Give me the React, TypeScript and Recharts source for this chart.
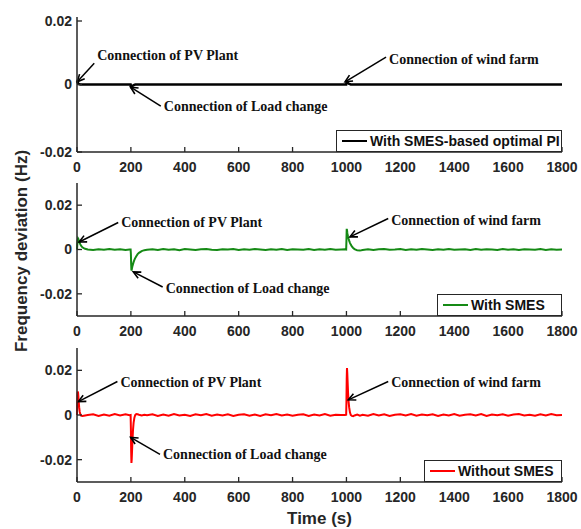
import {
    LineChart,
    Line,
    XAxis,
    YAxis,
    ReferenceLine,
    Legend,
} from "recharts";

// time axis (s), denser around the three connection events
const TIME = [
    0, 1, 2, 3, 4, 5, 6, 8, 10, 12, 15, 20, 25, 30, 40,
    60, 80, 100, 120, 140, 160, 180, 195,
    199, 200, 201, 202, 203, 204, 206, 208, 210, 213, 216, 220, 225, 230, 240, 250, 260,
    280, 300, 320, 340, 360, 380, 400, 420, 440, 460,
    480, 500, 520, 540, 560, 580, 600, 620, 640, 660,
    680, 700, 720, 740, 760, 780, 800, 820, 840, 860,
    880, 900, 920, 940, 960, 980,
    995, 999, 1000, 1001, 1002, 1003, 1004, 1006, 1008, 1010, 1013, 1016, 1020, 1025, 1030, 1040, 1050, 1060,
    1080, 1100, 1120, 1140, 1160, 1180, 1200, 1220, 1240, 1260,
    1280, 1300, 1320, 1340, 1360, 1380, 1400, 1420, 1440, 1460,
    1480, 1500, 1520, 1540, 1560, 1580, 1600, 1620, 1640, 1660,
    1680, 1700, 1720, 1740, 1760, 1780, 1800,
];

// With SMES-based optimal PI
const OPTIMAL_PI = [
    0.0006, 0.0008, 0.0007, 0.0005, 0.0004, 0.0003, 0.0002, 0.0001, 0.0001, 0, 0, 0, 0, 0, 0,
    0, 0, 0, 0, 0, 0, 0, 0,
    0, -0.0004, -0.0008, -0.0009, -0.0008, -0.0006, -0.0004, -0.0003, -0.0002, -0.0001, 0, 0, 0, 0, 0, 0, 0,
    0, 0, 0, 0, 0, 0, 0, 0, 0, 0,
    0, 0, 0, 0, 0, 0, 0, 0, 0, 0,
    0, 0, 0, 0, 0, 0, 0, 0, 0, 0,
    0, 0, 0, 0, 0, 0,
    0, 0, 0.0004, 0.0008, 0.0009, 0.0008, 0.0006, 0.0004, 0.0003, 0.0002, 0.0001, 0, 0, 0, 0, 0, 0, 0,
    0, 0, 0, 0, 0, 0, 0, 0, 0, 0,
    0, 0, 0, 0, 0, 0, 0, 0, 0, 0,
    0, 0, 0, 0, 0, 0, 0, 0, 0, 0,
    0, 0, 0, 0, 0, 0, 0,
];

// With SMES
const WITH_SMES = [
    0, 0.002, 0.0035, 0.0045, 0.005, 0.0048, 0.0044, 0.0036, 0.003, 0.0024, 0.0017, 0.001, 0.0006, 0.0003, 0,
    -0.0002, 0.0001, -0.0001, 0.0002, -0.0001, 0.0001, -0.0002, 0,
    0, -0.002, -0.0065, -0.0095, -0.0092, -0.0085, -0.0074, -0.0065, -0.0057, -0.0047, -0.0039, -0.003, -0.0021, -0.0015, -0.0007, -0.0003, -0.0001,
    0.0001, -0.0002, 0.0002, -0.0001, 0.0001, -0.0003, 0.0002, 0, -0.0002, 0.0001,
    0.0002, -0.0001, -0.0002, 0.0001, 0, 0.0002, -0.0002, 0.0001, -0.0001, 0.0002,
    0, -0.0002, 0.0001, -0.0001, 0.0002, -0.0002, 0.0001, 0, -0.0001, 0.0002,
    -0.0002, 0.0001, -0.0001, 0.0002, -0.0001, 0,
    0.0001, 0, 0.004, 0.0093, 0.0088, 0.0078, 0.007, 0.0058, 0.0048, 0.004, 0.003, 0.0022, 0.0014, 0.0007, 0.0002, -0.0004, -0.0005, -0.0002,
    0.0001, -0.0002, 0.0001, 0.0002, -0.0001, 0, 0.0002, -0.0002, 0.0001, -0.0001,
    0.0002, 0, -0.0002, 0.0001, -0.0001, 0.0002, -0.0001, 0, 0.0001, -0.0002,
    0.0002, -0.0001, 0.0001, 0, -0.0002, 0.0002, -0.0001, 0.0001, -0.0002, 0.0001,
    0, -0.0001, 0.0002, -0.0002, 0.0001, -0.0001, 0,
];

// Without SMES
const WITHOUT_SMES = [
    0, 0.006, 0.0095, 0.0105, 0.01, 0.0085, 0.0065, 0.0035, 0.0015, 0.0005, -0.0003, -0.0004, -0.0003, -0.0002, 0,
    0.0003, -0.0004, 0.0002, -0.0003, 0.0004, -0.0002, 0.0003, -0.0001,
    0, -0.006, -0.016, -0.0215, -0.02, -0.017, -0.011, -0.0065, -0.0035, -0.0012, 0, 0.0004, 0.0003, 0.0001, -0.0002, 0.0001, -0.0001,
    0.0003, -0.0004, 0.0002, -0.0003, 0.0004, -0.0002, 0.0001, -0.0004, 0.0003, -0.0001,
    0.0004, -0.0003, 0.0002, -0.0002, 0.0003, -0.0004, 0.0001, 0.0003, -0.0003, 0.0002,
    -0.0004, 0.0003, -0.0001, 0.0004, -0.0002, 0.0002, -0.0003, 0.0001, 0.0003, -0.0004,
    0.0002, -0.0002, 0.0004, -0.0003, 0.0001, 0,
    0, 0.0001, 0.006, 0.016, 0.021, 0.019, 0.016, 0.01, 0.006, 0.0035, 0.0012, 0, -0.0004, -0.0005, -0.0002, 0.0002, -0.0003, 0.0001,
    -0.0003, 0.0004, -0.0002, 0.0003, -0.0004, 0.0001, 0.0003, -0.0002, 0.0004, -0.0003,
    0.0002, -0.0001, 0.0003, -0.0004, 0.0002, -0.0002, 0.0004, -0.0003, 0.0001, 0.0003,
    -0.0002, 0.0004, -0.0004, 0.0002, -0.0001, 0.0003, -0.0003, 0.0002, 0.0004, -0.0002,
    0.0001, -0.0003, 0.0003, -0.0002, 0.0004, -0.0001, 0,
];

const X_TICKS = [0, 200, 400, 600, 800, 1000, 1200, 1400, 1600, 1800];
const Y_TICKS = [-0.02, 0, 0.02];

const PV_TEXT = "Connection of PV Plant";
const LOAD_TEXT = "Connection of Load change";
const WIND_TEXT = "Connection of wind farm";

const data = TIME.map((t, i) => ({
    t,
    pi: OPTIMAL_PI[i],
    smes: WITH_SMES[i],
    nosmes: WITHOUT_SMES[i],
}));

const FRAME = "#262626";
const SANS = "'Liberation Sans', Arial, sans-serif";
const SERIF = "'Liberation Serif', 'Times New Roman', serif";

interface Note {
    text: string;
    tail: [number, number];
    head: [number, number];
    dy: number;
}

interface PanelProps {
    top: number;
    plotHeight: number;
    axisHeight: number;
    dataKey: string;
    color: string;
    width: number;
    domain: [number, number];
    name: string;
    legendLeft: number;
    legendWidth: number;
    notes: Note[];
    xLabel?: boolean;
}

const fmt = (v: number) => (v === 0 ? "0" : String(v));

const BottomTick = (p: any) => (
    <g>
        <line x1={p.x} x2={p.x} y1={p.y - 10} y2={p.y - 15} stroke={FRAME} strokeWidth={1.3} />
        <text x={p.x} y={p.y} dy="0.71em" textAnchor="middle" fill={FRAME}
            fontFamily={SANS} fontWeight={700} fontSize={14}>
            {p.payload.value}
        </text>
    </g>
);

const LeftTick = (p: any) => (
    <g>
        <line x1={p.x + 5} x2={p.x + 10} y1={p.y} y2={p.y} stroke={FRAME} strokeWidth={1.3} />
        <text x={p.x} y={p.y} dy="0.355em" textAnchor="end" fill={FRAME}
            fontFamily={SANS} fontWeight={700} fontSize={14}>
            {fmt(p.payload.value)}
        </text>
    </g>
);

const TopTick = (p: any) => (
    <line x1={p.x} x2={p.x} y1={p.y} y2={p.y + 5} stroke={FRAME} strokeWidth={1.3} />
);

const RightTick = (p: any) => (
    <line x1={p.x} x2={p.x - 5} y1={p.y} y2={p.y} stroke={FRAME} strokeWidth={1.3} />
);

const arrow = (text: string, dy: number) => (p: any) => {
    const { x1, y1, x2, y2 } = p;
    const a = Math.atan2(y2 - y1, x2 - x1);
    const L = 8;
    const w = 0.45;
    const left = `${x2 - L * Math.cos(a - w)},${y2 - L * Math.sin(a - w)}`;
    const right = `${x2 - L * Math.cos(a + w)},${y2 - L * Math.sin(a + w)}`;
    return (
        <g>
            <line x1={x1} y1={y1} x2={x2} y2={y2} stroke="#000" strokeWidth={1.5} />
            <polyline points={`${left} ${x2},${y2} ${right}`} fill="none" stroke="#000" strokeWidth={1.6} />
            <text x={x1 + 3} y={y1 + dy} fill="#111" fontFamily={SERIF} fontWeight={700} fontSize={14}>
                {text}
            </text>
        </g>
    );
};

const Panel = ({
    top,
    plotHeight,
    axisHeight,
    dataKey,
    color,
    width,
    domain,
    name,
    legendLeft,
    legendWidth,
    notes,
    xLabel,
}: PanelProps) => {
    const height = 5 + plotHeight + axisHeight;
    return (
        <div style={{ position: "absolute", left: 0, top }}>
            <LineChart
                width={581}
                height={height}
                data={data}
                margin={{ top: 5, right: 19, bottom: 0, left: 0 }}
            >
                <XAxis
                    dataKey="t"
                    type="number"
                    domain={[0, 1800]}
                    ticks={X_TICKS}
                    height={axisHeight}
                    tickSize={0}
                    tickMargin={10}
                    tick={BottomTick}
                    axisLine={{ stroke: FRAME, strokeWidth: 1.5 }}
                    label={
                        xLabel
                            ? {
                                content: (lp: any) => (
                                    <text
                                        x={lp.viewBox.x + lp.viewBox.width / 2}
                                        y={lp.viewBox.y + 42}
                                        textAnchor="middle"
                                        fill={FRAME}
                                        fontFamily={SANS}
                                        fontWeight={700}
                                        fontSize={17}
                                    >
                                        Time (s)
                                    </text>
                                ),
                            }
                            : undefined
                    }
                />
                <XAxis
                    xAxisId="top"
                    orientation="top"
                    dataKey="t"
                    type="number"
                    domain={[0, 1800]}
                    ticks={X_TICKS}
                    height={0}
                    tickSize={0}
                    tickMargin={0}
                    tick={TopTick}
                    axisLine={{ stroke: FRAME, strokeWidth: 1.5 }}
                />
                <YAxis
                    type="number"
                    domain={domain}
                    ticks={Y_TICKS}
                    width={77}
                    tickSize={0}
                    tickMargin={5}
                    tick={LeftTick}
                    axisLine={{ stroke: FRAME, strokeWidth: 1.5 }}
                />
                <YAxis
                    yAxisId="right"
                    orientation="right"
                    type="number"
                    domain={domain}
                    ticks={Y_TICKS}
                    width={0}
                    tickSize={0}
                    tickMargin={0}
                    tick={RightTick}
                    axisLine={{ stroke: FRAME, strokeWidth: 1.5 }}
                />
                <Line
                    type="linear"
                    dataKey={dataKey}
                    name={name}
                    stroke={color}
                    strokeWidth={width}
                    dot={false}
                    isAnimationActive={false}
                />
                {notes.map((n) => (
                    <ReferenceLine
                        key={n.text}
                        segment={[
                            { x: n.tail[0], y: n.tail[1] },
                            { x: n.head[0], y: n.head[1] },
                        ]}
                        shape={arrow(n.text, n.dy)}
                    />
                ))}
                <Legend
                    layout="horizontal"
                    verticalAlign="middle"
                    align="center"
                    wrapperStyle={{
                        left: legendLeft,
                        top: 5 + plotHeight - 22,
                        width: legendWidth,
                        height: 22,
                    }}
                    content={() => (
                        <div
                            style={{
                                boxSizing: "border-box",
                                width: legendWidth,
                                height: 22,
                                border: `1.5px solid ${FRAME}`,
                                background: "#fff",
                                display: "flex",
                                alignItems: "center",
                                paddingLeft: 5,
                            }}
                        >
                            <span
                                style={{
                                    display: "inline-block",
                                    width: 25,
                                    height: 0,
                                    borderTop: `${width}px solid ${color}`,
                                    marginRight: 3,
                                }}
                            />
                            <span
                                style={{
                                    fontFamily: SANS,
                                    fontWeight: 700,
                                    fontSize: 14,
                                    color: "#111",
                                    whiteSpace: "nowrap",
                                }}
                            >
                                {name}
                            </span>
                        </div>
                    )}
                />
            </LineChart>
        </div>
    );
};

const App = () => {
    return (
        <div
            style={{
                position: "absolute",
                left: 0,
                top: 0,
                width: 581,
                height: 529,
                background: "#fff",
                fontFamily: SANS,
            }}
        >
            <Panel
                top={12}
                plotHeight={135}
                axisHeight={30}
                dataKey="pi"
                color="#000000"
                width={2.5}
                domain={[-0.02, 0.02]}
                name="With SMES-based optimal PI"
                legendLeft={336}
                legendWidth={226}
                notes={[
                    { text: PV_TEXT, tail: [64, 0.0063], head: [1, 0.0008], dy: -3 },
                    { text: LOAD_TEXT, tail: [311, -0.0064], head: [199, -0.0008], dy: 5 },
                    { text: WIND_TEXT, tail: [1147, 0.0081], head: [995, 0.0008], dy: 7 },
                ]}
            />
            <Panel
                top={178}
                plotHeight={133}
                axisHeight={30}
                dataKey="smes"
                color="#158a15"
                width={2}
                domain={[-0.03, 0.03]}
                name="With SMES"
                legendLeft={437}
                legendWidth={125}
                notes={[
                    { text: PV_TEXT, tail: [153, 0.0122], head: [8, 0.0034], dy: 5 },
                    { text: LOAD_TEXT, tail: [318, -0.0169], head: [209, -0.0101], dy: 6 },
                    { text: WIND_TEXT, tail: [1155, 0.014], head: [1013, 0.0057], dy: 7 },
                ]}
            />
            <Panel
                top={343}
                plotHeight={134}
                axisHeight={48}
                dataKey="nosmes"
                color="#ff0000"
                width={2}
                domain={[-0.03, 0.03]}
                name="Without SMES"
                legendLeft={424}
                legendWidth={138}
                xLabel
                notes={[
                    { text: PV_TEXT, tail: [150, 0.015], head: [5, 0.006], dy: 5 },
                    { text: LOAD_TEXT, tail: [308, -0.0176], head: [199, -0.01], dy: 5 },
                    { text: WIND_TEXT, tail: [1155, 0.015], head: [1007, 0.0068], dy: 5 },
                ]}
            />
            {/* shared y label across the three panels */}
            <svg
                width={40}
                height={529}
                style={{ position: "absolute", left: 0, top: 0 }}
            >
                <text
                    x={21}
                    y={251}
                    transform="rotate(-90 21 251)"
                    textAnchor="middle"
                    dominantBaseline="central"
                    fill={FRAME}
                    fontFamily={SANS}
                    fontWeight={700}
                    fontSize={17}
                >
                    Frequency deviation (Hz)
                </text>
            </svg>
        </div>
    );
};

export default App;
